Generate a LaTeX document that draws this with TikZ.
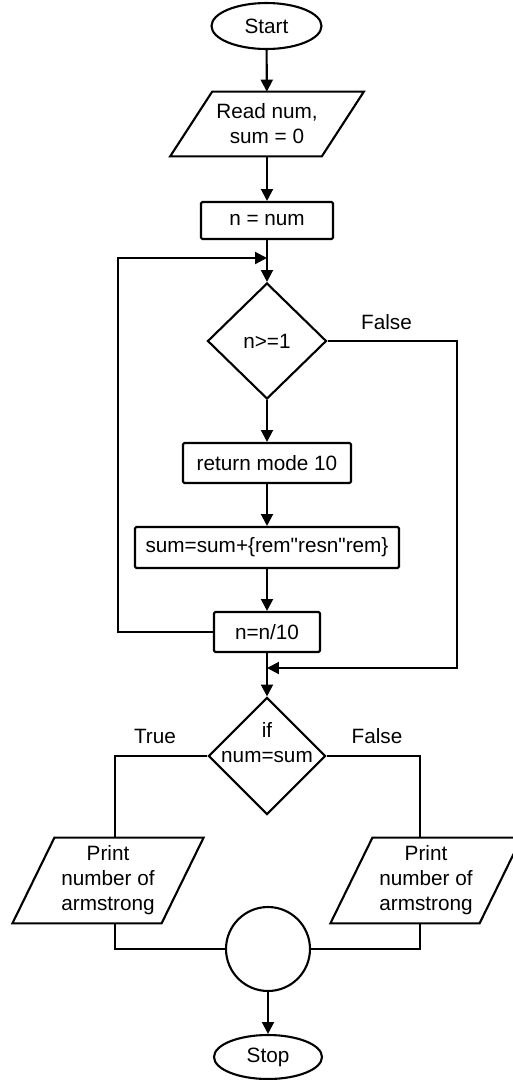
\documentclass[tikz,border=0pt]{standalone}
\usepackage{fontspec}
\setmainfont{Liberation Sans}
\usetikzlibrary{shapes.geometric,arrows.meta,calc}
\begin{document}
\begin{tikzpicture}[x=0.02cm,y=-0.02cm,
  txt/.style={font=\fontsize{11.8}{14.2}\selectfont, align=center, inner sep=0pt},
  base/.style={txt, draw, line width=1.2pt},
  term/.style={base, ellipse},
  proc/.style={base, rectangle, rounded corners=0.8pt},
  decide/.style={base, diamond, aspect=1},
  iotext/.style={txt},
  wire/.style={line width=1.2pt},
  arr/.style={wire, -{Triangle[length=6.8pt,width=6.8pt]}}
]
\useasboundingbox (0,0) rectangle (512,1080);

% parallelogram drawn around a text node, slanted by #2 (x units)
\newcommand\ioframe[2]{%
  \draw[wire] ($(#1.north west)+(#2,0)$) -- ($(#1.north east)+(#2,0)$)
    -- ($(#1.south east)+(-#2,0)$) -- ($(#1.south west)+(-#2,0)$) -- cycle;}

% nodes
\node[term, minimum width=2.2cm, minimum height=0.92cm] (start) at (266.5,26) {Start};
\node[iotext, minimum width=3.02cm, minimum height=1.28cm] (read) at (267,124) {Read num,\\sum = 0};
\ioframe{read}{21}
\node[proc, minimum width=2.64cm, minimum height=0.74cm] (init) at (267,220.5) {n = num};
\node[decide, minimum width=2.38cm, minimum height=2.32cm] (cond) at (267,341) {n>=1};
\node[proc, minimum width=3.36cm, minimum height=0.8cm] (rem) at (267,463) {return mode 10};
\node[proc, minimum width=5.28cm, minimum height=0.82cm] (acc) at (267,547.5) {sum=sum+\{rem\textquotedbl resn\textquotedbl rem\}};
\node[proc, minimum width=2.12cm, minimum height=0.8cm] (div) at (267,632) {n=n/10};
\node[decide, minimum width=2.34cm, minimum height=2.34cm] (test) at (267,756) {};
\node[txt] (testt) at (267,743) {if\\num=sum};
\node[iotext, minimum width=2.97cm, minimum height=1.7cm] (yes) at (108,880.5) {Print\\number of\\armstrong};
\ioframe{yes}{21}
\node[iotext, minimum width=2.97cm, minimum height=1.7cm] (no) at (426,880.5) {Print\\number of\\armstrong};
\ioframe{no}{21}
\node[base, circle, minimum size=1.68cm] (join) at (268,949) {};
\node[term, minimum width=2.16cm, minimum height=0.88cm] (stop) at (268,1057) {Stop};

% labels
\node[txt] (lf1) at (386.5,322) {False};
\node[txt] (lt2) at (155,736) {True};
\node[txt] (lf2) at (377,736) {False};

% junction points
\coordinate (m1) at (267,258);
\coordinate (loopc) at (118,258);
\coordinate (m2) at (267,668);
\coordinate (fr) at (457,668);

% connectors
\draw[arr] (start) -- (read);
\draw[arr] (read) -- (init);
\draw[arr] (init) -- (cond);
\draw[arr] (div.west) -| (loopc) -- (m1);
\draw[arr] (cond) -- (rem);
\draw[arr] (rem) -- (acc);
\draw[arr] (acc) -- (div);
\draw[arr] (div) -- (test);
\draw[arr] (cond.east) -| (fr) -- (m2);
\draw[wire] (test.west) -| ($(yes.north)+(7,0)$);
\draw[wire] (test.east) -| ($(no.north)+(-6,0)$);
\draw[wire] ($(yes.south)+(7,0)$) |- (join.west);
\draw[wire] ($(no.south)+(-6,0)$) |- (join.east);
\draw[arr] (join) -- (stop);
\end{tikzpicture}
\end{document}
